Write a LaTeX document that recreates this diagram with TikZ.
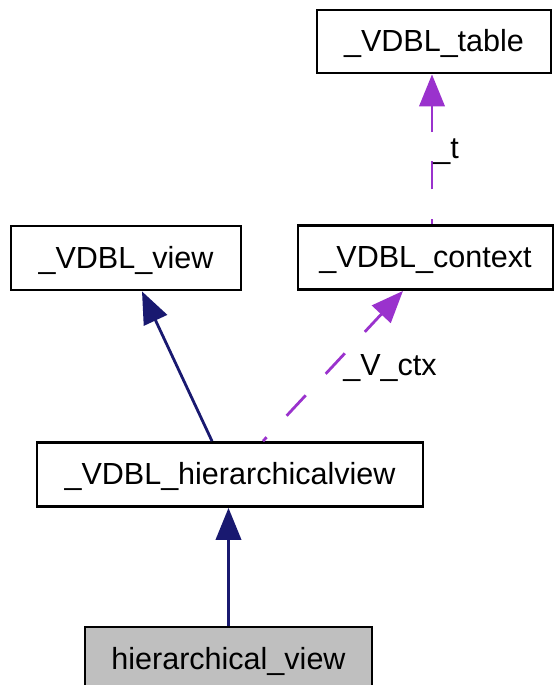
\documentclass[tikz,border=0pt]{standalone}
\usepackage{fontspec}
\setmainfont{Liberation Sans}
\usetikzlibrary{arrows.meta,calc}

\definecolor{inhblue}{RGB}{25,25,112}
\definecolor{usepurple}{RGB}{154,50,205}

\tikzset{every picture/.style={line width=2.1pt}}
\tikzset{
  classbox/.style={draw=black, fill=white, inner sep=0pt, minimum height=48pt,
    text height=16.5pt, text depth=1.5pt, font=\fontsize{22.9pt}{27pt}\selectfont},
  edgelabel/.style={inner sep=0pt, anchor=base west, font=\fontsize{22.9pt}{27pt}\selectfont},
  inherit/.style={draw=inhblue, -{Triangle[length=24pt, width=19pt]}},
  member/.style={draw=usepurple, dash pattern=on 21pt off 22pt, dash phase=17pt,
    -{Triangle[length=24pt, width=19pt]}}
}

\begin{document}
\begin{tikzpicture}[x=0.75pt,y=0.75pt,yscale=-1,xscale=1]
\useasboundingbox (0,0) rectangle (555,685);

%Shape: class boxes
\node[classbox, minimum width=175.5pt, minimum height=47.25pt] (table) at (434,41.5) {\_VDBL\_table};
\node[classbox, minimum width=172.5pt] (view) at (126,258) {\_VDBL\_view};
\node[classbox, minimum width=191.25pt] (context) at (425.5,257.5) {\_VDBL\_context};
\node[classbox, minimum width=289.5pt] (hview) at (230,474.5) {\_VDBL\_hierarchicalview};
\node[classbox, fill={rgb,255:red,191;green,191;blue,191}, minimum width=215.25pt] (hv) at (228.5,659) {hierarchical\_view};

%Straight Lines: inheritance
\draw[inherit] (hv.north) -- (hv.north |- hview.south);
\draw[inherit] ($(hview.north)+(-18,0)$) -- ($(view.south)+(16,0)$);

%Straight Lines: members
\draw[member] ($(hview.north)+(33,0)$) -- ($(context.south)+(-22.5,0)$);
\draw[member] ($(context.north)+(6.5,0)$) -- ($(table.south)+(-2,0)$);

%Text: member names
\node[edgelabel] (lctx) at (342,375) {\_V\_ctx};
\node[edgelabel] (ltab) at (432,158) {\_t};

\end{tikzpicture}
\end{document}
